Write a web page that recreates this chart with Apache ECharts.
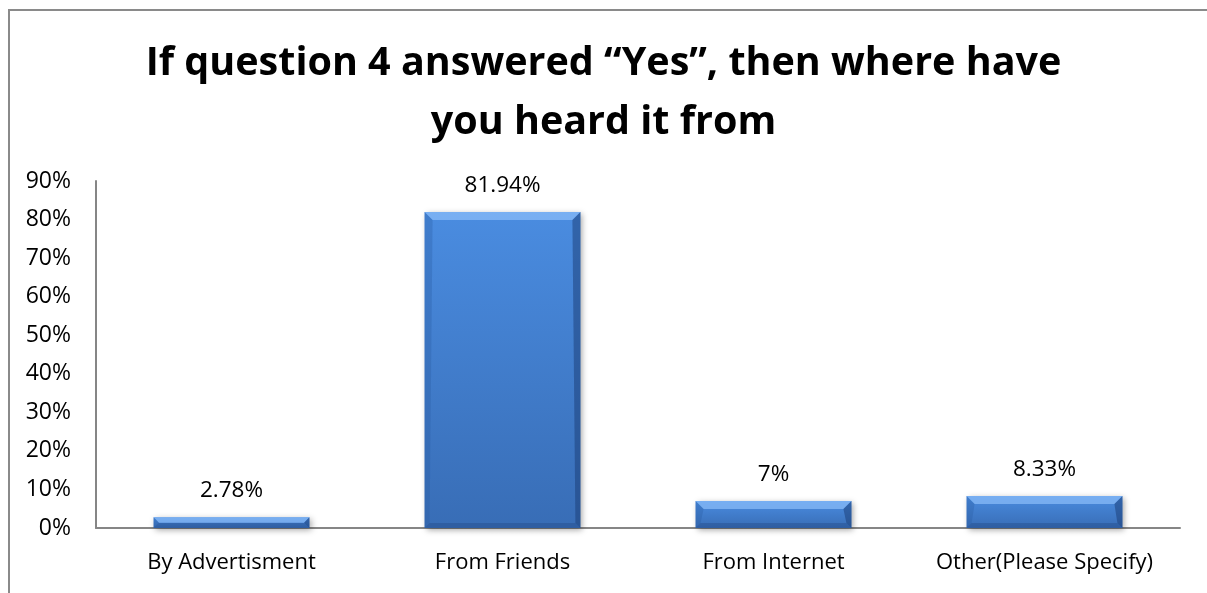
<!DOCTYPE html>
<html>
<head>
<meta charset="utf-8">
<script src="https://cdn.jsdelivr.net/npm/echarts@6/dist/echarts.min.js"></script>
<style>
  html, body { margin: 0; padding: 0; background: #ffffff; }
  #chart { width: 1207px; height: 593px; }
</style>
</head>
<body>
<div id="chart"></div>
<script>
// Survey answers: where respondents heard about it
const categories = ['By Advertisment', 'From Friends', 'From Internet', 'Other(Please Specify)'];
const shares = [2.78, 81.94, 7, 8.33];
const yTicks = [0, 10, 20, 30, 40, 50, 60, 70, 80, 90];

const FONT = '"Open Sans", "DejaVu Sans", sans-serif';
const BAR_RATIO = 0.575;
const BEVEL = 8;

const chart = echarts.init(document.getElementById('chart'), null, { renderer: 'canvas' });

// Bevelled edges drawn on top of each bar
function bevelItem(params, api) {
  const top = api.coord([api.value(0), api.value(1)]);
  const base = api.coord([api.value(0), 0]);
  const w = api.size([1, 0])[0] * BAR_RATIO;
  const x0 = top[0] - w / 2, x1 = top[0] + w / 2;
  const y0 = top[1], y1 = base[1];
  const h = y1 - y0;
  const b = Math.min(BEVEL, h / 2, w / 2);
  const s = Math.min(5, h / 2);
  const ix0 = x0 + s, ix1 = x1 - s, iy0 = y0 + b, iy1 = y1 - s;
  return {
    type: 'group',
    children: [
      { type: 'polygon', shape: { points: [[x0, y0], [x1, y0], [x1 - b, iy0], [x0 + b, iy0]] },
        style: { fill: 'rgba(140,190,250,0.7)' } },
      { type: 'polygon', shape: { points: [[x0, y0], [x0 + b, iy0], [ix0, iy1], [x0, y1]] },
        style: { fill: 'rgba(40,90,160,0.3)' } },
      { type: 'polygon', shape: { points: [[x1, y0], [x1, y1], [ix1, iy1], [x1 - b, iy0]] },
        style: { fill: 'rgba(25,60,115,0.5)' } },
      { type: 'polygon', shape: { points: [[x0, y1], [ix0, iy1], [ix1, iy1], [x1, y1]] },
        style: { fill: 'rgba(25,60,115,0.3)' } }
    ]
  };
}

const option = {
  backgroundColor: '#ffffff',
  animation: false,
  title: {
    text: 'If question 4 answered \u201cYes\u201d, then where have\nyou heard it from',
    left: 'center',
    top: 29,
    textStyle: {
      fontFamily: FONT,
      fontWeight: 'bold',
      fontSize: 39.5,
      lineHeight: 59,
      color: '#000000'
    }
  },
  // Chart frame: left and top edges
  graphic: [{
    type: 'polyline',
    shape: { points: [[9, 593], [9, 10], [1207, 10]] },
    style: { fill: 'none', stroke: '#8a8a8a', lineWidth: 2 },
    silent: true
  }],
  grid: { left: 96, right: 27, top: 181, bottom: 65 },
  xAxis: {
    type: 'category',
    data: categories,
    axisLine: { lineStyle: { color: '#868686', width: 2 } },
    axisTick: { show: false },
    axisLabel: {
      fontFamily: FONT, fontSize: 22, color: '#000000', margin: 24,
      interval: 0, hideOverlap: false
    }
  },
  yAxis: {
    type: 'value',
    min: yTicks[0],
    max: yTicks[yTicks.length - 1],
    interval: 10,
    splitLine: { show: false },
    axisLine: { show: true, lineStyle: { color: '#868686', width: 2 } },
    axisTick: { show: false },
    axisLabel: {
      fontFamily: FONT, fontSize: 23, color: '#000000', margin: 25,
      formatter: v => v + '%'
    }
  },
  series: [
    {
      type: 'bar',
      data: shares,
      barWidth: (BAR_RATIO * 100) + '%',
      itemStyle: {
        color: new echarts.graphic.LinearGradient(0, 0, 0, 1, [
          { offset: 0, color: '#4a8ce0' },
          { offset: 1, color: '#386db6' }
        ]),
        shadowColor: 'rgba(0,0,0,0.35)',
        shadowBlur: 6,
        shadowOffsetX: 2,
        shadowOffsetY: 2
      },
      label: {
        show: true,
        position: 'top',
        distance: 15,
        fontFamily: FONT,
        fontSize: 22.5,
        color: '#000000',
        formatter: p => p.value + '%'
      }
    },
    {
      type: 'custom',
      data: shares.map((v, i) => [i, v]),
      renderItem: bevelItem,
      silent: true,
      z: 3
    }
  ]
};

chart.setOption(option);
</script>
</body>
</html>
